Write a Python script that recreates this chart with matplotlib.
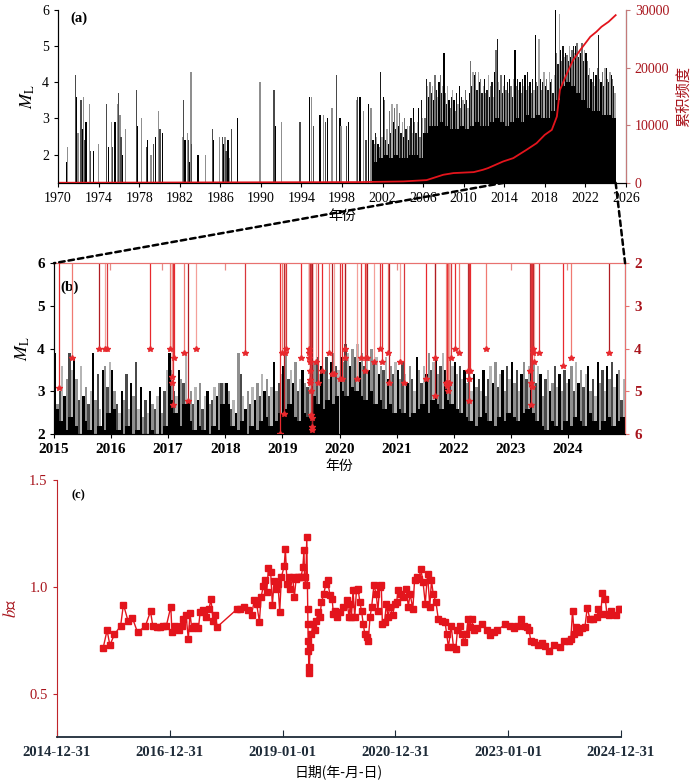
import numpy as np
import matplotlib
matplotlib.use("Agg")
from matplotlib import pyplot as plt
from matplotlib.patches import ConnectionPatch
import pandas as pd

plt.rcParams['font.family'] = ['Liberation Serif', 'Noto Sans CJK SC']
plt.rcParams['mathtext.fontset'] = 'stix'

# ---------------- (a) whole catalogue 1970-2025 ----------------
early_years = [1970.85, 1970.95, 1971.71, 1971.84, 1971.97, 1972.27, 1972.40, 1972.53, 1972.66, 1972.76,
               1973.09, 1973.22, 1973.48, 1973.98, 1974.80, 1974.96, 1975.29, 1975.39, 1975.62, 1975.85,
               1975.98, 1976.05, 1976.11, 1976.21, 1976.38, 1976.67, 1977.76, 1977.86, 1978.25, 1978.74,
               1978.84, 1979.17, 1979.40, 1979.60, 1979.93, 1980.06, 1980.29, 1982.29, 1982.39, 1982.52,
               1982.75, 1982.89, 1983.02, 1983.12, 1983.18, 1983.81, 1984.53, 1985.22, 1985.35, 1985.94,
               1986.24, 1986.37, 1986.47, 1986.57, 1986.77, 1986.90, 1987.09, 1987.72, 1989.92, 1991.30,
               1991.43, 1992.06, 1993.87, 1994.79, 1994.98, 1995.21, 1995.84, 1996.17, 1996.40, 1996.59,
               1997.02, 1997.48, 1997.81, 1997.91, 1998.47, 1998.63, 1999.46, 1999.55, 1999.78, 2000.11,
               2000.37, 2000.60, 2000.86]
early_ml = [1.8, 2.2, 4.2, 3.6, 2.6, 3.5, 2.7, 3.6, 2.4, 2.9,
            3.4, 2.1, 2.1, 2.3, 3.4, 2.2, 2.9, 2.2, 2.9, 3.4,
            3.7, 3.0, 3.1, 2.5, 2.0, 2.7, 3.8, 2.8, 3.0, 2.2,
            2.4, 2.0, 2.3, 2.5, 3.2, 2.7, 2.6, 2.5, 3.5, 2.4,
            2.6, 2.4, 1.8, 4.3, 2.3, 2.0, 2.0, 2.7, 2.4, 2.5,
            2.5, 2.3, 2.5, 2.1, 2.4, 1.9, 2.7, 3.0, 4.0, 3.8,
            2.8, 2.9, 2.9, 3.6, 3.6, 2.8, 3.1, 3.1, 2.9, 3.0,
            3.3, 4.2, 3.0, 2.8, 2.8, 2.9, 3.5, 3.6, 3.6, 3.2,
            2.4, 3.4, 3.3]

dense_start = 2001
# eight bars per year, 2001-2024
dense_peaks = [2.4, 2.3, 2.6, 2.5, 2.3, 2.2, 4.3, 2.5,
               3.6, 3.5, 2.4, 2.7, 2.3, 3.2, 2.6, 3.4,
               2.9, 3.3, 2.7, 3.4, 2.8, 3.15, 2.6, 2.9,
               2.5, 3.0, 2.7, 2.8, 2.4, 2.8, 3.0, 2.6,
               3.3, 2.9, 2.6, 2.9, 3.3, 2.5, 3.5, 3.0,
               2.2, 3.0, 4.1, 3.9, 3.6, 4.0, 3.7, 3.9,
               3.5, 4.2, 3.8, 3.6, 4.0, 4.2, 3.7, 3.9,
               4.8, 3.7, 3.4, 3.9, 3.5, 3.3, 3.6, 3.8,
               3.5, 3.2, 3.7, 3.4, 3.9, 3.3, 3.6, 3.5,
               3.4, 3.8, 3.5, 3.3, 3.7, 4.6, 3.9, 4.3,
               4.2, 4.3, 3.8, 4.3, 4.0, 4.1, 3.7, 3.9,
               4.1, 3.7, 3.8, 4.2, 3.6, 3.9, 4.0, 3.6,
               4.3, 4.9, 5.2, 4.0, 3.8, 4.2, 3.7, 3.9,
               4.2, 3.8, 4.0, 3.7, 4.1, 3.9, 3.6, 4.1,
               4.9, 3.9, 4.1, 3.8, 4.0, 3.7, 4.1, 3.9,
               4.2, 3.8, 4.3, 3.9, 4.0, 3.7, 4.1, 3.8,
               5.3, 4.0, 3.9, 5.2, 4.1, 3.8, 4.0, 4.3,
               3.9, 4.1, 3.8, 4.3, 4.0, 4.1, 3.7, 4.2,
               6.0, 4.8, 4.5, 5.9, 4.9, 4.6, 5.0, 4.7,
               4.8, 4.75, 4.6, 5.0, 4.7, 4.9, 5.0, 4.8,
               5.0, 5.1, 4.7, 4.9, 4.8, 5.1, 4.6, 4.9,
               4.8, 4.6, 4.2, 4.4, 4.1, 4.0, 4.3, 3.9,
               4.2, 4.4, 5.3, 4.1, 4.0, 4.3, 3.9, 4.4,
               4.4, 4.1, 4.0, 4.3, 4.2, 4.1, 3.9, 3.7]
# solid black level, two per year
dense_body = [1.8, 1.9, 2.0, 1.9, 2.0, 1.9, 1.9, 2.0, 2.0, 1.9,
              2.6, 2.8, 2.8, 2.9, 2.8, 2.7, 2.7, 2.8, 2.7, 2.8,
              2.9, 2.8, 2.8, 2.9, 3.0, 2.9, 2.8, 2.9, 3.0, 2.9,
              3.1, 3.0, 3.1, 3.0, 3.0, 3.2, 3.5, 3.9, 4.0, 3.9,
              3.7, 3.5, 3.3, 3.2, 3.2, 3.1, 3.1, 3.0]

cum_years = [1970.0, 1999.8, 2004.05, 2006.35, 2008.0, 2009.0, 2011.0, 2011.9, 2012.4, 2013.9,
             2014.9, 2016.2, 2017.2, 2018.0, 2018.7, 2019.2, 2019.5, 2020.2, 2020.8, 2021.5,
             2022.5, 2023.1, 2023.6, 2024.3, 2025.0]
cum_count = [0, 115, 230, 460, 1390, 1680, 1850, 2250, 2540, 3700,
             4280, 5720, 6880, 8320, 9190, 11500, 16130, 19020, 21330, 23060,
             25380, 26240, 27110, 27980, 29130]

# ---------------- (b) 2015-2025 ----------------
b_start = 2015
# two bars per month
b_peaks = [3.9, 2.7, 3.0, 3.6, 2.9, 3.3, 3.9, 3.5, 3.8, 3.3, 2.8, 3.6, 2.9, 3.1, 2.7, 3.0, 3.9, 2.8, 3.4, 2.6, 3.5, 3.6, 3.1, 3.7,
           3.5, 3.0, 2.7, 2.5, 3.0, 2.8, 3.4, 2.6, 3.2, 2.9, 3.7, 2.6, 3.1, 2.4, 2.8, 2.5, 3.0, 2.7, 2.6, 2.9, 3.1, 2.5, 3.0, 3.5,
           3.9, 3.5, 3.0, 2.9, 3.5, 3.3, 3.2, 3.9, 2.8, 3.0, 2.7, 3.1, 2.8, 3.2, 2.6, 2.9, 3.0, 2.7, 2.8, 3.1, 2.9, 3.2, 3.2, 3.2,
           3.2, 3.0, 2.6, 2.8, 2.5, 3.9, 3.4, 2.9, 2.6, 3.0, 2.7, 3.1, 2.8, 3.2, 2.9, 3.4, 3.0, 3.3, 2.9, 3.1, 3.7, 3.0, 3.2, 3.4,
           3.6, 3.9, 3.3, 3.5, 3.2, 3.7, 3.0, 3.3, 3.5, 3.2, 3.1, 3.4, 3.9, 3.7, 3.8, 3.4, 3.6, 3.5, 3.8, 3.3, 3.7, 3.9, 3.6, 3.5,
           3.8, 3.7, 4.1, 3.9, 3.6, 4.0, 3.8, 4.1, 3.7, 3.9, 3.6, 3.8, 3.5, 4.0, 3.7, 3.8, 3.4, 3.6, 3.5, 3.8, 3.3, 3.6, 3.4, 3.7,
           3.5, 3.3, 3.7, 3.4, 3.2, 3.6, 3.3, 3.0, 3.8, 3.5, 3.2, 3.6, 3.4, 3.9, 3.5, 3.7, 3.8, 3.4, 3.6, 3.9, 3.5, 3.7, 3.8, 3.6,
           3.7, 3.4, 3.6, 3.3, 3.5, 3.2, 3.6, 3.0, 3.4, 3.1, 3.3, 3.0, 3.5, 2.9, 3.3, 3.6, 3.2, 3.7, 3.1, 3.4, 3.5, 3.0, 3.6, 3.3,
           3.7, 3.2, 3.5, 3.0, 3.4, 3.7, 3.3, 3.6, 3.5, 3.7, 3.2, 3.6, 3.4, 2.9, 3.3, 3.5, 3.0, 3.2, 3.6, 3.1, 3.4, 3.0, 3.5, 3.2,
           3.3, 3.6, 3.0, 3.7, 3.2, 3.5, 3.1, 3.4, 3.6, 3.0, 3.3, 2.9, 3.7, 3.2, 3.5, 3.0, 3.6, 3.3, 3.7, 3.1, 3.4, 3.5, 2.8, 3.3]
b_body = [2.6, 2.3, 2.1, 2.4, 2.2, 2.0, 2.3, 2.1, 2.0, 2.2, 2.1, 2.5,
          2.6, 2.1, 2.0, 2.2, 2.0, 2.1, 1.9, 2.0, 2.1, 1.9, 2.0, 2.2,
          2.8, 2.5, 2.2, 2.7, 2.3, 2.1, 2.2, 2.1, 2.0, 2.2, 2.1, 2.7,
          2.7, 2.2, 2.1, 2.3, 2.0, 2.2, 2.1, 2.3, 2.4, 2.2, 2.3, 2.5,
          2.6, 2.7, 2.4, 2.3, 2.5, 2.4, 2.9, 2.7, 2.6, 2.8, 2.7, 2.9,
          3.0, 2.9, 3.1, 3.0, 2.9, 2.8, 3.0, 2.7, 2.8, 2.6, 2.7, 2.5,
          2.6, 2.5, 2.4, 2.5, 2.6, 2.7, 2.5, 2.8, 2.7, 2.6, 2.8, 2.7,
          2.6, 2.5, 2.4, 2.3, 2.2, 2.4, 2.5, 2.3, 2.2, 2.4, 2.3, 2.5,
          2.4, 2.3, 2.5, 2.6, 2.5, 2.3, 2.2, 2.1, 2.3, 2.2, 2.1, 2.3,
          2.2, 2.4, 2.3, 2.2, 2.5, 2.3, 2.1, 2.3, 2.4, 2.2, 2.3, 2.4]

# larger events hanging from the top (right axis, inverted)
ev_t = [2015.09, 2015.31, 2015.79, 2015.90, 2015.93, 2016.69, 2017.04, 2017.06, 2017.07, 2017.09,
        2017.10, 2017.27, 2017.34, 2017.48, 2018.35, 2018.96, 2018.99, 2019.02, 2019.04, 2019.06,
        2019.32, 2019.46, 2019.47, 2019.47, 2019.48, 2019.48, 2019.49, 2019.49, 2019.50, 2019.50,
        2019.51, 2019.51, 2019.52, 2019.58, 2019.62, 2019.70, 2019.82, 2019.87, 2019.90, 2020.01,
        2020.04, 2020.09, 2020.10, 2020.31, 2020.38, 2020.45, 2020.46, 2020.48, 2020.61, 2020.71,
        2020.74, 2020.85, 2020.86, 2021.06, 2021.13, 2021.52, 2021.67, 2021.68, 2021.87, 2021.88,
        2021.89, 2021.90, 2021.91, 2021.92, 2021.95, 2022.02, 2022.09, 2022.25, 2022.26, 2022.27,
        2022.28, 2022.57, 2023.34, 2023.35, 2023.36, 2023.37, 2023.38, 2023.39, 2023.40, 2023.50,
        2023.92, 2024.05, 2024.71]
ev_d = [4.93, 4.21, 4.01, 4.01, 4.01, 4.01, 4.01, 4.65, 4.81, 5.32,
        4.21, 4.11, 5.22, 4.01, 4.11, 6.00, 4.11, 5.52, 4.11, 4.01,
        4.21, 4.01, 4.11, 4.21, 4.31, 4.51, 4.74, 4.81, 5.00, 5.55,
        5.63, 5.82, 5.90, 4.31, 4.81, 4.51, 4.11, 4.60, 4.60, 4.70,
        4.70, 4.01, 4.21, 4.70, 4.21, 4.51, 4.21, 4.21, 4.31, 4.01,
        4.31, 4.11, 4.81, 4.31, 4.81, 4.70, 4.21, 5.11, 4.81, 4.80,
        4.88, 5.00, 4.80, 4.81, 4.21, 4.01, 4.11, 4.51, 4.70, 5.22,
        4.51, 4.01, 4.51, 4.81, 5.32, 4.90, 4.11, 4.01, 4.31, 4.11,
        4.40, 4.21, 4.11]
short_t = [2015.99, 2016.90, 2018.00, 2021.00, 2023.00, 2023.99]
short_d = [2.15, 2.15, 2.15, 2.15, 2.15, 2.15]

# ---------------- (c) b-value ----------------
bv_t = [2015.82, 2015.89, 2015.94, 2016.02, 2016.13, 2016.18, 2016.26, 2016.34, 2016.43, 2016.57,
        2016.66, 2016.70, 2016.77, 2016.83, 2016.89, 2016.94, 2017.02, 2017.04, 2017.10, 2017.16,
        2017.21, 2017.24, 2017.29, 2017.33, 2017.36, 2017.39, 2017.45, 2017.51, 2017.54, 2017.59,
        2017.64, 2017.70, 2017.73, 2017.77, 2017.81, 2017.84, 2018.20, 2018.24, 2018.32, 2018.39,
        2018.45, 2018.50, 2018.54, 2018.59, 2018.62, 2018.66, 2018.69, 2018.72, 2018.75, 2018.79,
        2018.82, 2018.85, 2018.88, 2018.92, 2018.95, 2018.98, 2019.03, 2019.05, 2019.08, 2019.11,
        2019.14, 2019.18, 2019.21, 2019.24, 2019.27, 2019.30, 2019.33, 2019.36, 2019.38, 2019.39,
        2019.41, 2019.43, 2019.445, 2019.45, 2019.455, 2019.46, 2019.465, 2019.47, 2019.49, 2019.51,
        2019.54, 2019.57, 2019.60, 2019.63, 2019.66, 2019.69, 2019.73, 2019.77, 2019.80, 2019.84,
        2019.88, 2019.90, 2019.93, 2019.96, 2020.02, 2020.08, 2020.14, 2020.18,
        2020.20, 2020.22, 2020.25, 2020.28, 2020.31, 2020.34, 2020.37, 2020.40, 2020.43, 2020.46,
        2020.49, 2020.52, 2020.55, 2020.58, 2020.62, 2020.66, 2020.69, 2020.72, 2020.75, 2020.77,
        2020.81, 2020.84, 2020.87, 2020.90, 2020.95, 2020.99, 2021.02, 2021.05, 2021.09, 2021.14,
        2021.19, 2021.23, 2021.26, 2021.31, 2021.34, 2021.38, 2021.42, 2021.45, 2021.49, 2021.53,
        2021.57, 2021.61, 2021.64, 2021.67, 2021.72, 2021.76, 2021.82, 2021.88, 2021.91, 2021.94,
        2021.99, 2022.03, 2022.07, 2022.10, 2022.14, 2022.18, 2022.22, 2022.26, 2022.29, 2022.32,
        2022.35, 2022.39, 2022.44, 2022.53, 2022.62, 2022.68, 2022.74, 2022.80, 2022.95, 2023.03,
        2023.10, 2023.15, 2023.22, 2023.28, 2023.33, 2023.37, 2023.40, 2023.45, 2023.52, 2023.59,
        2023.65, 2023.72, 2023.81, 2023.91, 2023.99, 2024.07, 2024.11, 2024.14, 2024.17, 2024.21,
        2024.26, 2024.30, 2024.36, 2024.40, 2024.45, 2024.51, 2024.57, 2024.60, 2024.64, 2024.67,
        2024.72, 2024.75, 2024.79, 2024.83, 2024.91, 2024.96, 2024.99]
bv_val = [0.716, 0.80, 0.73, 0.78, 0.82, 0.92, 0.845, 0.857, 0.79, 0.82,
          0.888, 0.82, 0.815, 0.815, 0.82, 0.82, 0.91, 0.79, 0.82, 0.80,
          0.82, 0.853, 0.87, 0.76, 0.88, 0.81, 0.82, 0.81, 0.885, 0.896,
          0.86, 0.90, 0.947, 0.845, 0.87, 0.815, 0.90, 0.897, 0.91, 0.896,
          0.87, 0.94, 0.924, 0.84, 0.955, 1.006, 1.036, 0.98, 1.09, 1.07,
          0.916, 1.03, 0.994, 1.017, 0.885, 1.048, 1.10, 1.18, 1.017, 1.048,
          0.994, 1.048, 0.955, 1.04, 1.05, 1.05, 1.05, 1.095, 1.173, 1.048,
          1.01, 1.235, 0.90, 0.83, 0.75, 0.705, 0.627, 0.60, 0.72, 0.78,
          0.83, 0.80, 0.845, 0.885, 0.86, 0.93, 0.97, 1.017, 1.033, 0.963,
          0.947, 0.877, 0.89, 0.86, 0.885, 0.91, 0.94, 0.86,
          0.924, 0.86, 0.986, 0.86, 0.986, 0.994, 0.93, 0.89, 0.83, 0.78,
          0.77, 0.75, 0.86, 0.91, 1.01, 0.97, 0.89, 1.0, 1.01, 0.83,
          0.84, 0.924, 0.86, 0.91, 0.87, 0.924, 0.93, 0.986, 0.97, 0.955,
          0.994, 0.91, 0.97, 0.90, 1.033, 1.048, 1.04, 1.087, 1.025, 0.924,
          1.064, 0.91, 1.033, 0.97, 0.93, 0.853, 0.845, 0.84, 0.78, 0.72,
          0.82, 0.72, 0.71, 0.80, 0.82, 0.78, 0.745, 0.78, 0.853, 0.815,
          0.853, 0.80, 0.81, 0.83, 0.80, 0.776, 0.79, 0.80, 0.827, 0.82,
          0.81, 0.82, 0.85, 0.82, 0.815, 0.80, 0.75, 0.745, 0.73, 0.74,
          0.725, 0.705, 0.73, 0.72, 0.75, 0.75, 0.76, 0.89, 0.78, 0.815,
          0.79, 0.81, 0.815, 0.905, 0.85, 0.853, 0.86, 0.90, 0.877, 0.975,
          0.947, 0.874, 0.87, 0.89, 0.87, 0.90, 0.90]
c_ticks = ['2014-12-31', '2016-12-31', '2019-01-01', '2020-12-31', '2023-01-01', '2024-12-31']


def dec_year(s):
    d = pd.Timestamp(s)
    n = 366 if d.is_leap_year else 365
    return d.year + (d.dayofyear - 1) / n


shades = ['#000000', '#8f8f8f', '#4a4a4a', '#b5b5b5']
dense_shades = ['#000000', '#707070', '#1a1a1a', '#a6a6a6']
dark_red = '#a8141c'
line_red = '#e3141c'

fig = plt.figure(figsize=(7.0, 7.81), dpi=100)

# ======== panel (a) ========
ax_a = fig.add_axes([0.083, 0.766, 0.811, 0.221])
ax_a.bar(early_years, early_ml, width=0.14, color=[shades[i % 3] for i in range(len(early_years))],
         linewidth=0)
pk_x = dense_start + (np.arange(len(dense_peaks)) + 0.5) / 8
ax_a.bar(pk_x, dense_peaks, width=0.125, color=[dense_shades[i % 4] for i in range(len(dense_peaks))],
         linewidth=0)
bd_x = dense_start + (np.arange(len(dense_body)) + 0.5) / 2
ax_a.bar(bd_x, dense_body, width=0.5, color='k', linewidth=0)
ax_a.set_xlim(1970, 2026)
ax_a.set_ylim(1.22, 6)
ax_a.set_xticks(np.arange(1970, 2027, 4))
ax_a.set_yticks([2, 3, 4, 5, 6])
ax_a.tick_params(direction='out', length=3, labelsize=10)
ax_a.spines['top'].set_visible(False)
ax_a.set_ylabel(r'$M_{\mathrm{L}}$', fontsize=13, labelpad=4)
ax_a.set_xlabel('年份', fontsize=10, labelpad=3, family='Noto Sans CJK SC')
ax_a.text(0.022, 0.93, '(a)', transform=ax_a.transAxes, fontsize=10.5, fontweight='bold')

ax_a2 = ax_a.twinx()
ax_a2.plot(cum_years, cum_count, color=line_red, lw=1.3)
ax_a2.set_ylim(0, 30000)
ax_a2.set_yticks([0, 10000, 20000, 30000])
ax_a2.tick_params(direction='out', length=3, labelsize=10, colors='#c47a7a', labelcolor=dark_red)
ax_a2.spines['right'].set_color('#c47a7a')
ax_a2.spines['top'].set_visible(False)
ax_a2.set_ylabel('累积频度', fontsize=11, color=dark_red, family='Noto Sans CJK SC', labelpad=4)

# ======== panel (b) ========
ax_b = fig.add_axes([0.077, 0.444, 0.816, 0.219])
bp_x = b_start + (np.arange(len(b_peaks)) + 0.5) / 24
ax_b.bar(bp_x, b_peaks, width=1 / 24, color=[shades[i % 4] for i in range(len(b_peaks))], linewidth=0)
bb_x = b_start + (np.arange(len(b_body)) + 0.5) / 12
ax_b.bar(bb_x, b_body, width=1 / 12, color='k', linewidth=0)
ax_b.set_xlim(2015, 2025)
ax_b.set_ylim(2, 6)
ax_b.set_xticks(np.arange(2015, 2025))
ax_b.set_yticks([2, 3, 4, 5, 6])
ax_b.tick_params(direction='out', length=3, labelsize=11)
for lab in ax_b.get_xticklabels() + ax_b.get_yticklabels():
    lab.set_fontweight('bold')
ax_b.spines['top'].set_color('#e8716f')
ax_b.set_ylabel(r'$M_{\mathrm{L}}$', fontsize=13, labelpad=4)
ax_b.set_xlabel('年份', fontsize=10, labelpad=2, family='Noto Sans CJK SC')
ax_b.text(0.012, 0.84, '(b)', transform=ax_b.transAxes, fontsize=11, fontweight='bold')

ax_b2 = ax_b.twinx()
stem_cols = ['#e8292e', '#f07a72', '#b01d23', '#f4a09a', '#d9363b']
ax_b2.vlines(ev_t, 2, ev_d, colors=[stem_cols[i % 5] for i in range(len(ev_t))], lw=0.9)
ax_b2.vlines(short_t, 2, short_d, colors='#e88a86', lw=0.9)
ax_b2.plot(ev_t, ev_d, linestyle='none', marker='*', ms=4, color='#e8292e', mec='#e8292e')
ax_b2.axhline(2, color='#e8716f', lw=1.4)
ax_b2.set_ylim(6, 2)
ax_b2.set_yticks([2, 3, 4, 5, 6])
ax_b2.tick_params(direction='out', length=3, labelsize=11, colors='#e8716f', labelcolor=dark_red)
for lab in ax_b2.get_yticklabels():
    lab.set_fontweight('bold')
ax_b2.spines['right'].set_color('#e8716f')
ax_b2.spines['top'].set_color('#e8716f')

# dashed zoom connectors
for xa, xb in [(2014, 2015), (2025, 2025)]:
    con = ConnectionPatch(xyA=(xa, 1.22), coordsA=ax_a.transData, xyB=(xb, 6), coordsB=ax_b.transData,
                          color='k', lw=1.8, linestyle=(0, (2.2, 1.6)))
    fig.add_artist(con)

# ======== panel (c) ========
ax_c = fig.add_axes([0.081, 0.056, 0.806, 0.329])
ax_c.plot(bv_t, bv_val, color=line_red, lw=1.0, marker='s', ms=4.4, mec=line_red, mfc=line_red)
ax_c.set_xlim(dec_year(c_ticks[0]), dec_year(c_ticks[-1]))
ax_c.set_ylim(0.3, 1.5)
ax_c.set_xticks([dec_year(s) for s in c_ticks])
ax_c.set_xticklabels(c_ticks)
ax_c.set_yticks([0.5, 1.0, 1.5])
ax_c.tick_params(axis='x', direction='in', length=5, labelsize=10.5, colors='#1e2b38', pad=6)
ax_c.tick_params(axis='y', direction='out', length=3, labelsize=10.5, colors='#c0242a', labelcolor=dark_red)
for lab in ax_c.get_xticklabels():
    lab.set_fontweight('bold')
ax_c.spines['top'].set_visible(False)
ax_c.spines['right'].set_visible(False)
ax_c.spines['left'].set_color('#c0242a')
ax_c.spines['bottom'].set_color('#1e2b38')
ax_c.spines['bottom'].set_linewidth(1.3)
ax_c.set_ylabel(r'$b$值', fontsize=12, color=dark_red, labelpad=7)
ax_c.set_xlabel('日期(年-月-日)', fontsize=10, labelpad=4, family='Noto Sans CJK SC')
ax_c.text(0.027, 0.93, '(c)', transform=ax_c.transAxes, fontsize=9, fontweight='bold')

fig.savefig('out.png', dpi=100)
